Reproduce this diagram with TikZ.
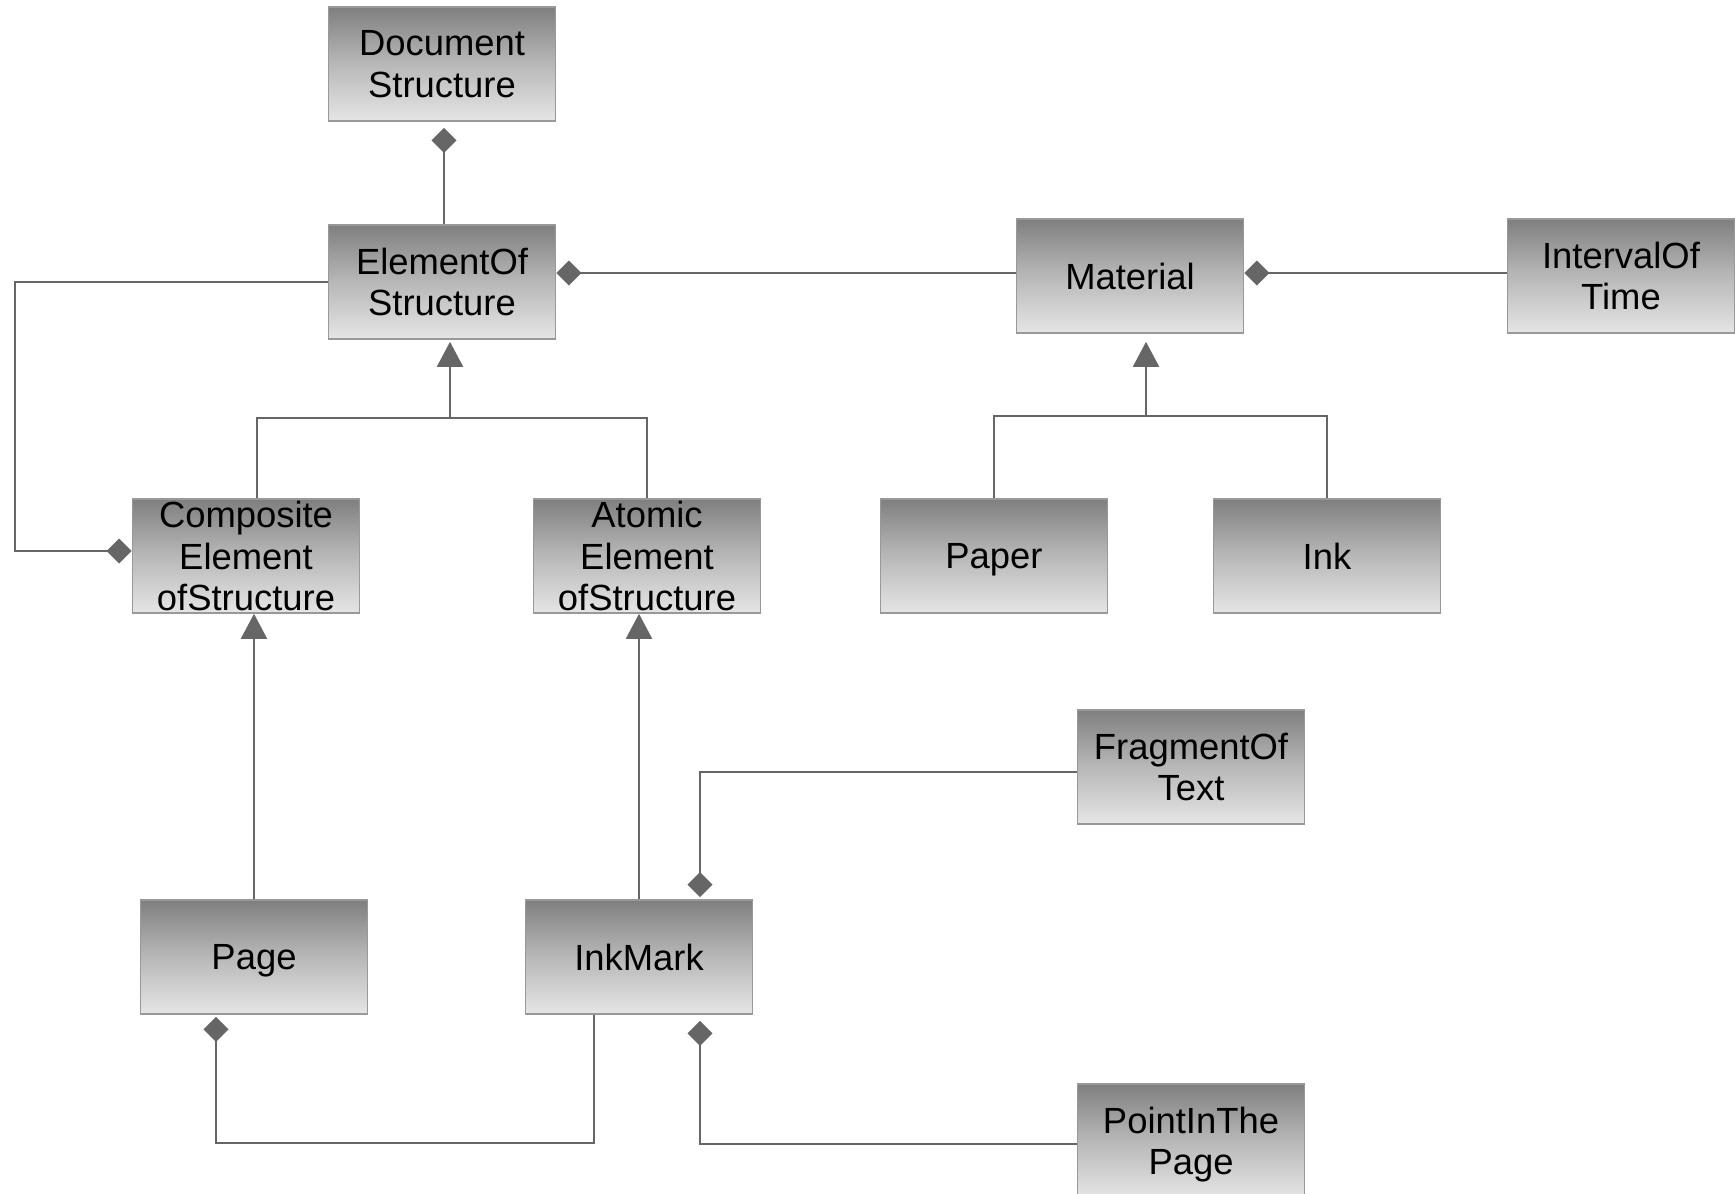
\documentclass[tikz,border=0pt]{standalone}
\usepackage{fontspec}
\setmainfont{Liberation Sans}
\usetikzlibrary{arrows.meta,calc}

\begin{document}
\begin{tikzpicture}[x=0.5pt,y=-0.5pt,
                        classbox/.style={draw=black!40,line width=0.8pt,top color=black!50,bottom color=black!10,middle color=black!28,
                                         minimum width=113.5pt,minimum height=57pt,inner sep=0pt,align=center,text depth=0pt,
                                         font=\fontsize{18.2}{20.7}\selectfont},
                        link/.style={black!60,line width=1pt},
                        part/.style={link,-{Diamond[length=12.5pt,width=12.5pt]}},
                        isa/.style={link,-{Triangle[length=12.5pt,width=13pt]}}]
      \useasboundingbox (0,0) rectangle (1735,1194);
      \clip (0,0) rectangle (1735,1194);

      \foreach \name/\x/\y/\txt in {doc/442/64/Document\\Structure,elem/442/282/ElementOf\\Structure,
                                    material/1130/276/Material,interval/1621/276/IntervalOf\\Time,
                                    composite/246/556/Composite\\Element\\ofStructure,atomic/647/556/Atomic\\Element\\ofStructure,
                                    paper/994/556/Paper,ink/1327/556/Ink,fragment/1191/767/FragmentOf\\Text,
                                    page/254/957/Page,inkmark/639/957/InkMark,point/1191/1141/PointInThe\\Page} {
        \node[classbox] (\name) at (\x,\y) {\txt};
      }

      \coordinate (elemjoin) at (450,418);
      \coordinate (matjoin) at (1146,416);
      \coordinate (leftrail) at (15,0);

      \draw[part,shorten >=3pt] ($(elem.north)+(2,0)$) -- ($(doc.south)+(2,0)$);
      \draw[part] ($(material.west)+(0,-3)$) -- ($(material.west -| elem.east)+(0,-3)$);
      \draw[part] ($(interval.west)+(0,-3)$) -- ($(interval.west -| material.east)+(0,-3)$);
      \draw[part] (elem.west) -- (elem.west -| leftrail) |- ($(composite.west)+(0,-5)$);

      \draw[link] ($(composite.north)+(11,0)$) |- (elemjoin) -| (atomic.north);
      \draw[isa,shorten >=1pt] (elemjoin) -- (elemjoin |- elem.south);
      \draw[link] (paper.north) |- (matjoin) -| (ink.north);
      \draw[isa,shorten >=4pt] (matjoin) -- (matjoin |- material.south);

      \draw[isa] (page.north) -- (page.north |- composite.south);
      \draw[isa] (inkmark.north) -- (inkmark.north |- atomic.south);

      \draw[part,shorten >=1pt] ($(fragment.west)+(0,5)$) -| ($(inkmark.north)+(61,0)$);
      \draw[part,shorten >=3pt] ($(point.west)+(0,3)$) -| ($(inkmark.south)+(61,0)$);
      \draw[part,shorten >=1pt] ($(inkmark.south)+(-45,0)$) -- ++(0,128) -| ($(page.south)+(-38,0)$);
    \end{tikzpicture}
\end{document}
